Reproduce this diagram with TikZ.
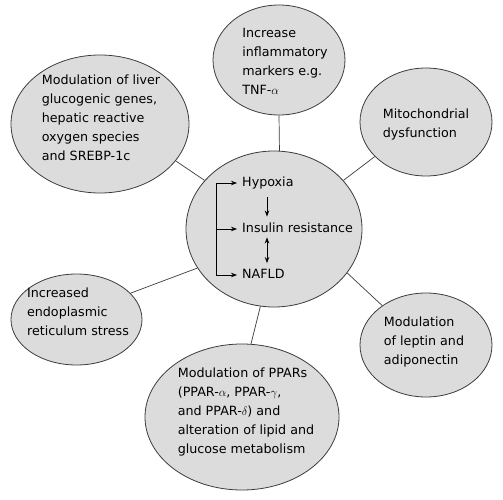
\documentclass[tikz,border=0pt]{standalone}
\usepackage{fontspec}
\setmainfont{DejaVu Sans}
\usetikzlibrary{arrows.meta,shapes.geometric}
\definecolor{bubblegray}{RGB}{220,220,220}
\definecolor{edgegray}{RGB}{60,60,60}

\begin{document}
\begin{tikzpicture}[x=1pt, y=-1pt,
  bubble/.style={ellipse, draw=edgegray, fill=bubblegray, line width=0.8pt, inner sep=0pt},
  txt/.style={align=left, inner sep=0pt, font=\fontsize{12.7}{19}\selectfont},
  item/.style={anchor=west, inner sep=2pt, text height=9.5pt, text depth=3pt, font=\fontsize{12.7}{19}\selectfont},
  link/.style={draw=edgegray, line width=0.7pt},
  tip/.style={-{Stealth[length=6pt,width=4.5pt]}, line width=0.7pt},
  dtip/.style={{Stealth[length=6pt,width=4.5pt]}-{Stealth[length=6pt,width=4.5pt]}, line width=0.7pt}]

\useasboundingbox (0,0) rectangle (503,500);

% -------- Bubbles -----------
\node [bubble, minimum width=176, minimum height=156] (c)     at (274,229) {};
\node [bubble, minimum width=132, minimum height=110] (tnf)   at (279,60)  {};
\node [bubble, minimum width=132, minimum height=108] (mito)  at (426,122) {};
\node [bubble, minimum width=178, minimum height=138] (liver) at (100,124) {};
\node [bubble, minimum width=131, minimum height=91]  (er)    at (76.5,319.5) {};
\node [bubble, minimum width=194, minimum height=146] (ppar)  at (242,417) {};
\node [bubble, minimum width=132, minimum height=104] (lep)   at (426,345) {};

% -------- Texts -----------
\node [txt] (tnf-t)   at (285,61)  {Increase\\inflammatory\\markers e.g.\\TNF-$\alpha$};
\node [txt] (mito-t)  at (426,124) {Mitochondrial\\dysfunction};
\node [txt] (liver-t) at (101,118) {Modulation of liver\\glucogenic genes,\\hepatic reactive\\oxygen species\\and SREBP-1c};
\node [txt] (er-t)    at (78,312)  {Increased\\endoplasmic\\reticulum stress};
\node [txt] (ppar-t)  at (246,412) {Modulation of PPARs\\(PPAR-$\alpha$, PPAR-$\gamma$,\\and PPAR-$\delta$) and\\alteration of lipid and\\glucose metabolism};
\node [txt] (lep-t)   at (424,342) {Modulation\\of leptin and\\adiponectin};

% -------- Links -----------
\draw [link] (c.86)     -- (tnf.-90);
\draw [link] (c.35.4)   -- (mito.-146.6);
\draw [link] (c.145.4)  -- (liver.-26.3);
\draw [link] (c.-153.7) -- (er.26.8);
\draw [link] (c.-100.2) -- (ppar.83.2);
\draw [link] (c.-31.9)  -- (lep.138.1);

% -------- Centre -----------
\node [item] (hyp)   at (240,183) {Hypoxia};
\node [item] (ins)   at (240,229) {Insulin resistance};
\node [item] (nafld) at (240,275) {NAFLD};

\coordinate (bx) at (216,0);
\coordinate (vx) at (267,0);

\draw [dtip, shorten <=3pt, shorten >=3pt] (hyp.west) -- (hyp.west -| bx) -- (nafld.west -| bx) -- (nafld.west);
\draw [tip, shorten >=3pt] (ins.west -| bx) -- (ins.west);
\draw [tip, shorten <=6pt, shorten >=4pt] (hyp.south -| vx) -- (ins.north -| vx);
\draw [dtip, shorten >=3.5pt] (ins.south -| vx) -- (nafld.north -| vx);
\end{tikzpicture}
\end{document}
